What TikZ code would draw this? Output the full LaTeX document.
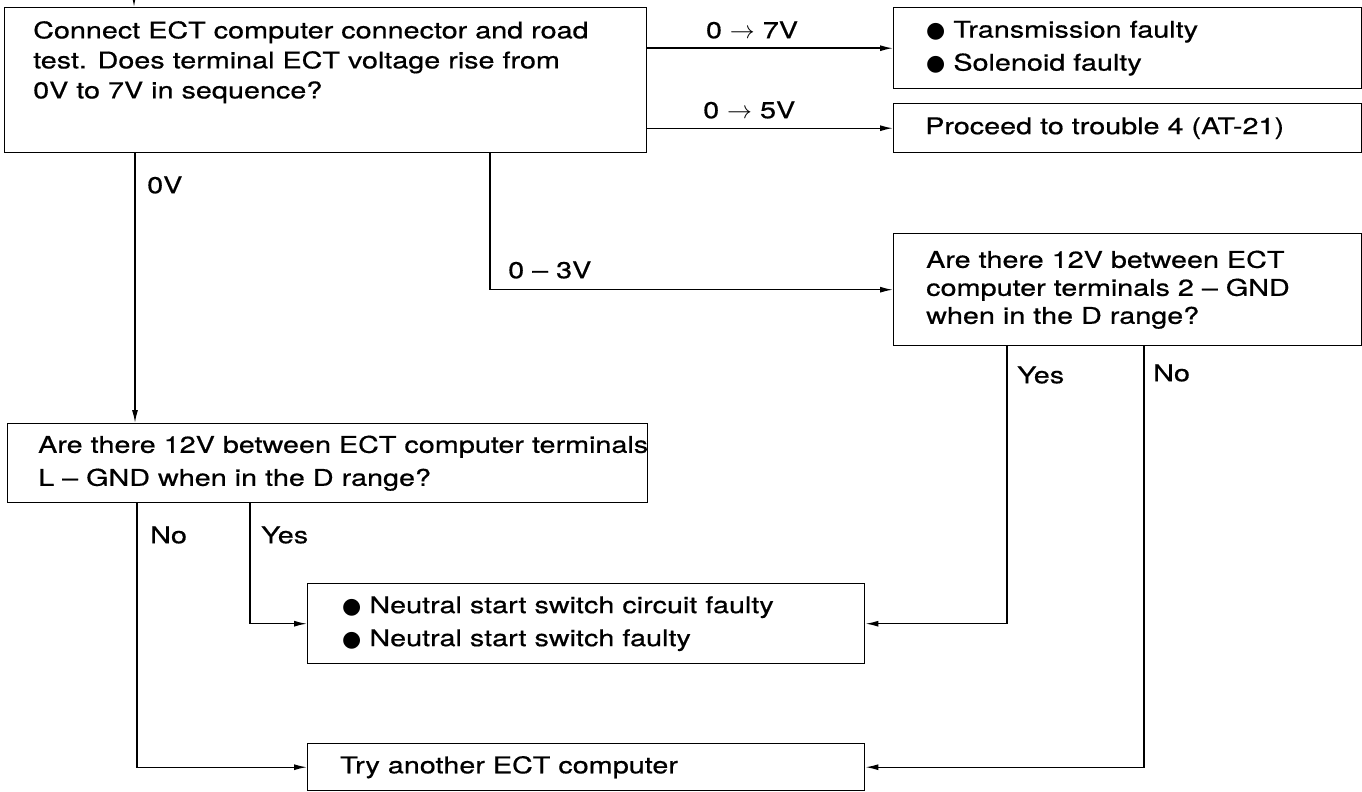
\documentclass[tikz,border=0pt]{standalone}
\usepackage{fontspec}
\setmainfont{TeX Gyre Heros}[FakeStretch=1.25,FakeBold=0.6]
\newfontfamily\symf{DejaVu Sans}
\usetikzlibrary{arrows.meta,calc}
\newcommand{\blt}{{\symf\fontsize{22}{22}\selectfont ●}\hspace{8pt}}
\begin{document}
\begin{tikzpicture}[x=1pt,y=-1pt,
  box/.style={draw, line width=1.4pt, rectangle, inner sep=0pt, anchor=north west},
  txt/.style={inner sep=0pt, align=left, font=\fontsize{23}{31}\selectfont},
  lbl/.style={inner sep=0pt, font=\fontsize{23}{28}\selectfont},
  arr/.style={line width=1.4pt, -{Latex[length=13pt,width=6pt]}}]
\useasboundingbox[fill=white] (0,0) rectangle (1362,792);

% boxes
\node[box, minimum width=642pt, minimum height=145pt] (A) at (4,7) {};
\node[box, minimum width=468pt, minimum height=81pt] (T) at (893,7) {};
\node[box, minimum width=468pt, minimum height=49pt] (P) at (893,103) {};
\node[box, minimum width=468pt, minimum height=112pt] (Q) at (893,233) {};
\node[box, minimum width=640pt, minimum height=79pt] (L) at (7,423) {};
\node[box, minimum width=557pt, minimum height=80pt] (N) at (307,583) {};
\node[box, minimum width=557pt, minimum height=47pt] (Y) at (307,743) {};

% texts
\node[txt, anchor=north west, font=\fontsize{23}{30}\selectfont] (At) at (33,21)
  {Connect ECT computer connector and road\\test. Does terminal ECT voltage rise from\\0V to 7V in sequence?};
\node[txt, anchor=west, font=\fontsize{23}{33}\selectfont] (Tt) at ($(T.west)+(33,0)$)
  {\blt Transmission faulty\\\blt Solenoid faulty};
\node[txt, anchor=west] (Pt) at ($(P.west)+(32,0)$) {Proceed to trouble 4 (AT-21)};
\node[txt, anchor=west, font=\fontsize{23}{28}\selectfont] (Qt) at ($(Q.west)+(33,0)$)
  {Are there 12V between ECT\\computer terminals 2 – GND\\when in the D range?};
\node[txt, anchor=west, font=\fontsize{23}{33}\selectfont] (Lt) at ($(L.west)+(31,0)$)
  {Are there 12V between ECT computer terminals\\L – GND when in the D range?};
\node[txt, anchor=west, font=\fontsize{23}{33}\selectfont] (Nt) at ($(N.west)+(35,0)$)
  {\blt Neutral start switch circuit faulty\\\blt Neutral start switch faulty};
\node[txt, anchor=west] (Yt) at ($(Y.west)+(33,0)$) {Try another ECT computer};

% connectors
\coordinate (top) at (134,0);
\coordinate (x0) at (135,0);
\coordinate (x3) at (490,0);
\coordinate (xn) at (137,0);
\coordinate (xy) at (250,0);
\coordinate (qy) at (1007,0);
\coordinate (qn) at (1144,0);
\draw[arr] (top) -- (top |- A.north);
\draw[arr] (A.east |- T.west) -- (T.west);
\draw[arr] (A.east |- P.west) -- (P.west);
\draw[arr] (A.south -| x0) -- (L.north -| x0);
\draw[arr] (A.south -| x3) |- (Q.west);
\draw[arr] (L.south -| xn) |- (Y.west);
\draw[arr] (L.south -| xy) |- (N.west);
\draw[arr] (Q.south -| qy) |- (N.east);
\draw[arr] (Q.south -| qn) |- (Y.east);

% labels
\node[lbl] (l7) at (752,30) {0 $\rightarrow$ 7V};
\node[lbl, anchor=west] (l5) at (703,110) {0 $\rightarrow$ 5V};
\node[lbl, anchor=west] (l0) at (147,185) {0V};
\node[lbl, anchor=west] (l3) at (508,270) {0 – 3V};
\node[lbl, anchor=west] (ly1) at (1017,375) {Yes};
\node[lbl, anchor=west] (ln1) at (1153,373) {No};
\node[lbl, anchor=west] (ln2) at (150,535) {No};
\node[lbl, anchor=west] (ly2) at (261,535) {Yes};
\end{tikzpicture}
\end{document}
